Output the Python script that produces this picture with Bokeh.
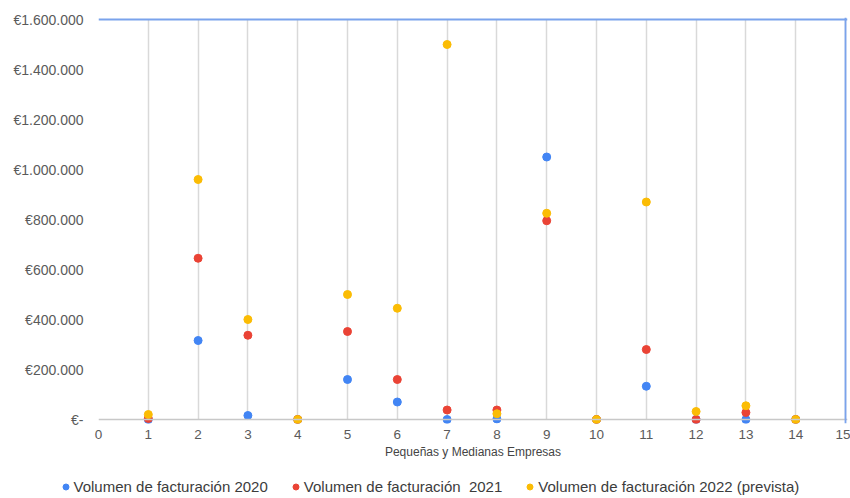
from bokeh.plotting import figure
from bokeh.layouts import column
from bokeh.models import Range1d, FixedTicker, Span, Legend, LegendItem, Label
from bokeh.embed import file_html
from bokeh.resources import INLINE

# Facturación por empresa (PYMEs numeradas 1..14)
empresas = list(range(1, 15))
fact_2020 = [0, 316000, 16000, 0, 160000, 70000, 0, 2000, 1050000, 0, 133000, 0, 0, 0]
fact_2021 = [4000, 645000, 337000, 0, 352000, 160000, 38000, 38000, 795000, 0, 280000, 0, 28000, 0]
fact_2022 = [20000, 960000, 400000, 0, 500000, 445000, 1500000, 23000, 825000, 0, 870000, 32000, 55000, 0]

series_labels = [
    "Volumen de facturación 2020",
    "Volumen de facturación  2021",
    "Volumen de facturación 2022 (prevista)",
]
series_colors = ["#4285F4", "#EA4335", "#FBBC04"]
series_values = [fact_2020, fact_2021, fact_2022]

x_ticks = list(range(0, 16))
y_ticks = [0, 200000, 400000, 600000, 800000, 1000000, 1200000, 1400000, 1600000]
y_tick_labels = ["€-", "€200.000", "€400.000", "€600.000", "€800.000",
                 "€1.000.000", "€1.200.000", "€1.400.000", "€1.600.000"]

FONT = "Liberation Sans"
W = 850
HEAD_H = 5      # strip holding the lower edge of the page heading
MAIN_H = 463    # scatter chart
LEG_H = 30      # legend strip


def bare_figure(height):
    # axis-free strip whose data space equals its pixel space
    f = figure(width=W, height=height, output_backend="svg", toolbar_location=None,
               x_axis_type=None, y_axis_type=None,
               x_range=Range1d(0, W), y_range=Range1d(0, height),
               min_border=0, frame_align=False)
    f.outline_line_color = None
    f.background_fill_color = "white"
    f.border_fill_color = "white"
    return f


# heading line running above the chart; only its lower edge falls inside the page
head = bare_figure(HEAD_H)
head.add_layout(Label(x=7, y=13.5, x_units="screen", y_units="screen", text="2020-2022.",
                      text_font=FONT, text_font_size="16px", text_color="#000000",
                      text_baseline="alphabetic"))

# main chart
p = figure(width=W, height=MAIN_H, output_backend="svg", toolbar_location=None,
           x_range=Range1d(0, 15.04), y_range=Range1d(-16000, 1608000),
           min_border_left=98, min_border_right=3, min_border_top=17 - HEAD_H,
           min_border_bottom=45, frame_align=False)
p.outline_line_color = None
p.background_fill_color = "white"
p.border_fill_alpha = 0

# vertical grid only
p.ygrid.visible = False
p.xaxis.ticker = FixedTicker(ticks=x_ticks)
p.xgrid.grid_line_color = "#d9d9d9"
p.xgrid.grid_line_width = 1.5
if hasattr(p.xgrid[0], "cross_bounds"):
    p.xgrid.cross_bounds = (y_ticks[0], y_ticks[-1])

# axes
p.yaxis.ticker = FixedTicker(ticks=y_ticks)
p.yaxis.major_label_overrides = {t: s for t, s in zip(y_ticks, y_tick_labels)}
for ax in (p.xaxis, p.yaxis):
    ax.axis_line_color = None
    ax.major_tick_line_color = None
    ax.minor_tick_line_color = None
    ax.major_tick_out = 0
    ax.major_tick_in = 0
    ax.minor_tick_out = 0
    ax.major_label_text_font = FONT
    ax.major_label_text_color = "#5a5a5a"
p.yaxis.major_label_text_font_size = "14px"
p.yaxis.major_label_standoff = 15
p.xaxis.major_label_text_font_size = "13.5px"
p.xaxis.major_label_standoff = 6
p.xaxis.axis_label = "Pequeñas y Medianas Empresas"
p.xaxis.axis_label_text_font = FONT
p.xaxis.axis_label_text_font_size = "12px"
p.xaxis.axis_label_text_font_style = "normal"
p.xaxis.axis_label_text_color = "#444444"
p.xaxis.axis_label_standoff = 3

# baseline and blue frame edges
p.add_layout(Span(location=0, dimension="width", line_color="#c8c8c8", line_width=1.5))
p.add_layout(Span(location=y_ticks[-1], dimension="width", line_color="#7aa3ec", line_width=1.8))
p.add_layout(Span(location=x_ticks[-1], dimension="height", line_color="#7aa3ec", line_width=1.8))

for vals, col in zip(series_values, series_colors):
    p.scatter(empresas, vals, size=8, fill_color=col, line_color=col)

# legend strip: hidden swatch renderers carry the series colours into the legend
leg_fig = bare_figure(LEG_H)
swatches = []
for vals, col in zip(series_values, series_colors):
    r = leg_fig.scatter(x=empresas[:1], y=vals[:1], size=8, fill_color=col, line_color=col)
    r.visible = False
    swatches.append(r)
legend = Legend(
    items=[LegendItem(label=lab, renderers=[r]) for lab, r in zip(series_labels, swatches)],
    orientation="horizontal", location=(57.5, 3.5),
    glyph_width=15, glyph_height=15, label_standoff=1, spacing=20,
    padding=0, margin=0, border_line_color=None, background_fill_alpha=0,
    label_text_font=FONT, label_text_font_size="15px", label_text_color="#3c3c3c",
)
leg_fig.add_layout(legend)

page = column(head, p, leg_fig, spacing=0)
open("out.html", "w").write(file_html(page, INLINE))
